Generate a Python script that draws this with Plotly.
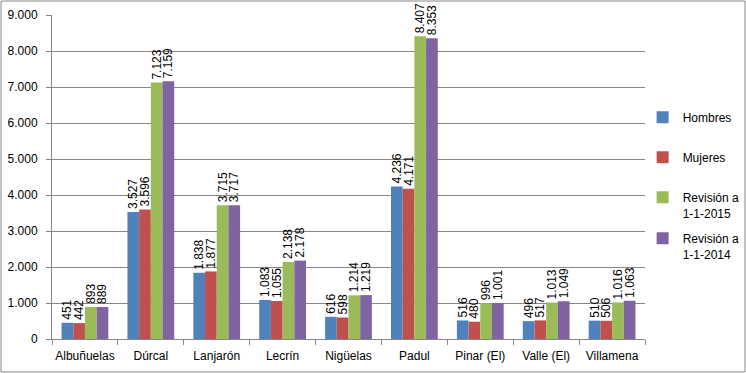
import plotly.graph_objects as go

categories = ["Albuñuelas", "Dúrcal", "Lanjarón", "Lecrín", "Nigüelas", "Padul", "Pinar (El)", "Valle (El)", "Villamena"]
hombres = [451, 3527, 1838, 1083, 616, 4236, 516, 496, 510]
mujeres = [442, 3596, 1877, 1055, 598, 4171, 480, 517, 506]
rev2015 = [893, 7123, 3715, 2138, 1214, 8407, 996, 1013, 1016]
rev2014 = [889, 7159, 3717, 2178, 1219, 8353, 1001, 1049, 1063]
series_names = ["Hombres", "Mujeres", "Revisión a<br>1-1-2015", "Revisión a<br>1-1-2014"]
colors = ["#4F81BD", "#C0504D", "#9BBB59", "#8064A2"]

W, H = 746, 373
L, R, T, B = 52, 101, 15, 34
FONT = "Liberation Sans"
pw = W - L - R
ph = H - T - B

legend_ids = ["legend", "legend2", "legend3", "legend4"]
legend_line_px = [118, 158, 198, 239]

fig = go.Figure()
for i, (name, vals) in enumerate(zip(series_names, [hombres, mujeres, rev2015, rev2014])):
    fig.add_trace(go.Bar(
        x=categories, y=vals, name=name, marker_color=colors[i],
        marker_line_width=0,
        texttemplate="%{y:,d}", textposition="outside", textangle=-90,
        textfont=dict(family=FONT, size=12, color="#000000"),
        cliponaxis=False, constraintext="none",
        legend=legend_ids[i],
    ))

legends = {}
for lid, ypx in zip(legend_ids, legend_line_px):
    top_px = ypx - 15
    legends[lid] = dict(x=0.996, y=1 - (top_px - T) / ph, xanchor="left", yanchor="top",
                        font=dict(family=FONT, size=12, color="#000000"),
                        itemwidth=30, valign="top", bgcolor="rgba(0,0,0,0)")

fig.update_layout(
    width=W, height=H,
    margin=dict(l=L, r=R, t=T, b=B, autoexpand=False),
    paper_bgcolor="white", plot_bgcolor="white",
    separators=",.",
    barmode="group", bargap=0.29, bargroupgap=0,
    font=dict(family=FONT, size=12, color="#000000"),
    showlegend=True,
    xaxis=dict(showline=True, linecolor="#868686", linewidth=1,
               ticks="outside", tickcolor="#868686", ticklen=5,
               tickson="boundaries", showgrid=False, tickangle=0,
               automargin=False, ticklabelstandoff=6,
               tickfont=dict(family=FONT, size=12, color="#000000")),
    yaxis=dict(range=[0, 9000], dtick=1000, tickformat=",d",
               showline=True, linecolor="#868686", linewidth=1,
               ticks="outside", tickcolor="#868686", ticklen=5,
               showgrid=True, gridcolor="#868686", gridwidth=1,
               zeroline=False, automargin=False, ticklabelstandoff=6,
               tickfont=dict(family=FONT, size=12, color="#000000")),
    shapes=[dict(type="rect", xref="paper", yref="paper",
                 x0=(-L + 1) / pw, x1=(pw + R - 1) / pw,
                 y0=(-B + 1) / ph, y1=(ph + T - 1) / ph,
                 line=dict(color="#868686", width=1))],
    **legends,
)
fig.write_html("out.html", config={"displayModeBar": False},
               post_script="document.body.style.margin='0';document.body.style.padding='0';document.body.style.overflow='hidden';")
